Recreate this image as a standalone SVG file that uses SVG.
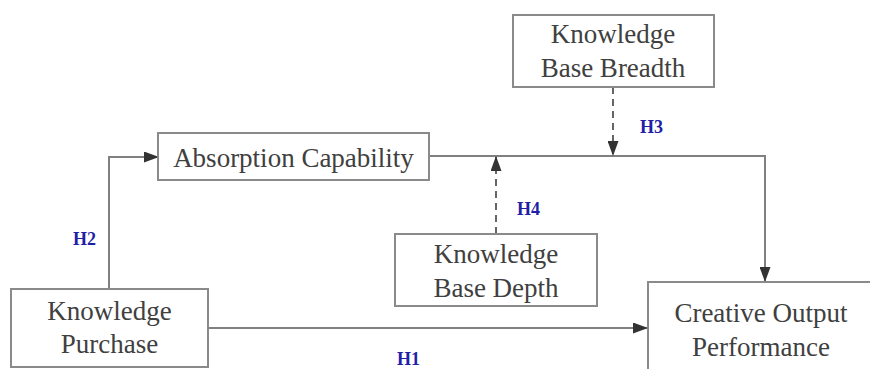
<svg xmlns="http://www.w3.org/2000/svg" width="870" height="369" viewBox="0 0 870 369">
<style>
.box{fill:#fff;stroke:#8a8a8a;stroke-width:2}
.t{font-family:'Liberation Serif','DejaVu Serif',serif;font-size:27px;fill:#404040;text-anchor:middle}
.h{font-family:'Liberation Serif','DejaVu Serif',serif;font-size:18px;font-weight:bold;fill:#1f1fa8}
.ln{fill:none;stroke:#808080;stroke-width:2}
.dash{fill:none;stroke:#666;stroke-width:2;stroke-dasharray:7 5}
</style>
<defs>
<marker id="ah" viewBox="0 0 15 11" refX="14" refY="5.5" markerWidth="15" markerHeight="11" markerUnits="userSpaceOnUse" orient="auto">
<path d="M0,0 L15,5.5 L0,11 Z" fill="#333"/>
</marker>
</defs>
<rect width="870" height="369" fill="#fff"/>
<g id="connectors">
<path class="ln" d="M109,289 V157 H158" marker-end="url(#ah)"/>
<path class="ln" d="M208,328 H647" marker-end="url(#ah)"/>
<path class="ln" d="M429,156 H765 V281" marker-end="url(#ah)"/>
<path class="dash" d="M613,87 V155" marker-end="url(#ah)"/>
<path class="dash" d="M496,234 V157" marker-end="url(#ah)"/>
</g>
<g id="labels">
<text class="h" x="73" y="245" font-family="Liberation Serif, serif">H2</text>
<text class="h" x="397" y="365" font-family="Liberation Serif, serif">H1</text>
<text class="h" x="640" y="133" font-family="Liberation Serif, serif">H3</text>
<text class="h" x="517" y="215" font-family="Liberation Serif, serif">H4</text>
</g>
<g id="absorption">
<rect class="box" x="158" y="133" width="271" height="47"/>
<text class="t" x="293.5" y="167" font-family="Liberation Serif, serif">Absorption Capability</text>
</g>
<g id="breadth">
<rect class="box" x="513" y="15" width="201" height="72"/>
<text class="t" x="613" y="43" font-family="Liberation Serif, serif">Knowledge</text>
<text class="t" x="613" y="77" font-family="Liberation Serif, serif">Base Breadth</text>
</g>
<g id="purchase">
<rect class="box" x="11" y="289" width="197" height="78"/>
<text class="t" x="109.5" y="320" font-family="Liberation Serif, serif">Knowledge</text>
<text class="t" x="109.5" y="353" font-family="Liberation Serif, serif">Purchase</text>
</g>
<g id="depth">
<rect class="box" x="395" y="234" width="202" height="72"/>
<text class="t" x="496" y="263" font-family="Liberation Serif, serif">Knowledge</text>
<text class="t" x="496" y="297" font-family="Liberation Serif, serif">Base Depth</text>
</g>
<g id="creative">
<rect class="box" x="648" y="282" width="240" height="100"/>
<text class="t" x="761" y="322" font-family="Liberation Serif, serif">Creative Output</text>
<text class="t" x="761" y="356" font-family="Liberation Serif, serif">Performance</text>
</g>
</svg>
